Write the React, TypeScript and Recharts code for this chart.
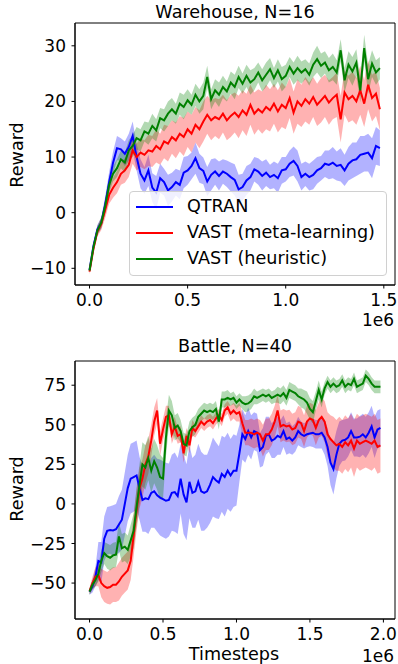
import React from "react";
import { ComposedChart, Line, Area, XAxis, YAxis, ReferenceArea } from "recharts";

// Warehouse, N=16 — one sample every 20k timesteps
const W_QTRAN = [
  -10.3, -6.0, -3.0, -1.8, 1.5, 5.5, 9.0, 11.6, 11.4, 10.6, 11.8, 13.8, 10.0, 7.0, 5.8, 7.6, 4.5, 3.6, 6.2, 5.5,
  4.0, 4.6, 5.5, 5.0, 7.2, 7.6, 8.4, 9.8, 8.0, 7.5, 5.6, 6.8, 7.4, 6.6, 7.4, 7.0, 6.4, 5.9, 4.2, 4.6,
  5.8, 6.4, 7.8, 7.4, 6.6, 7.2, 6.4, 6.8, 6.2, 7.6, 7.8, 8.8, 9.3, 8.4, 6.4, 7.0, 6.4, 6.8, 7.6, 8.0,
  8.8, 8.6, 9.0, 8.4, 8.6, 7.6, 8.8, 9.4, 9.6, 10.4, 10.6, 10.8, 9.8, 12.0, 11.6,
];
const W_QTRAN_SD = [
  0.4, 0.6, 0.8, 1.0, 1.4, 1.8, 2.0, 2.2, 2.0, 2.2, 2.4, 2.6, 2.4,
  2.6, 2.4, 2.8, 2.6, 3.0, 2.6, 2.4, 2.8, 2.6, 2.4, 2.6, 2.8, 2.6, 2.4, 2.8, 2.6, 2.4, 2.6, 2.8, 2.4, 2.6, 2.2, 2.4, 2.6, 2.8, 2.6, 2.4, 2.6,
  2.4, 2.2, 2.4, 2.6, 2.4, 2.2, 2.4, 2.6, 2.4, 2.2, 2.4, 2.6, 2.8, 2.4, 2.2, 2.4, 2.6, 2.4, 2.2, 2.4,
  2.6, 2.8, 2.6, 3.0, 2.8, 3.0, 3.2, 3.0, 3.4, 3.2, 3.4, 3.6, 3.4, 3.2,
];
const W_META = [
  -10.6, -6.5, -3.4, -2.0, 0.5, 3.2, 4.5, 5.5, 7.0, 7.6, 8.6, 11.2, 10.0, 10.8, 10.4, 11.2, 11.0, 12.0, 11.4, 12.8,
  12.4, 13.6, 13.0, 14.2, 13.6, 15.0, 14.2, 15.8, 15.0, 16.4, 17.6, 16.6, 17.2, 16.8, 17.8, 16.6, 17.4, 18.0, 17.2, 18.4,
  17.6, 19.4, 17.8, 18.6, 18.0, 19.0, 18.4, 19.6, 18.2, 19.4, 18.8, 20.6, 18.0, 20.0, 19.2, 20.4, 19.6, 20.8, 19.4, 20.2,
  21.0, 19.8, 20.6, 21.2, 16.8, 21.6, 20.4, 21.0, 20.0, 22.0, 19.6, 23.0, 20.6, 21.4, 18.6,
];
const W_META_SD = [
  0.5, 0.7, 0.9, 1.1, 1.4, 1.6, 1.8, 2.0, 2.0, 2.2, 2.2, 2.4, 2.4,
  2.6, 2.6, 2.8, 2.8, 3.0, 2.8, 3.0, 3.2, 3.0, 3.2, 3.2, 3.4, 3.2, 3.4, 3.2, 3.4, 3.6, 3.4, 3.6, 3.4, 3.6, 3.4, 3.6, 3.8, 3.6, 3.8, 3.6, 3.8,
  3.6, 3.8, 3.6, 3.8, 4.0, 3.8, 3.6, 3.8, 4.0, 3.8, 3.6, 3.8, 4.0, 3.8, 4.0, 3.8, 3.6, 3.8, 4.0, 3.8,
  4.0, 3.8, 4.0, 4.2, 4.0, 4.2, 4.4, 4.2, 4.4, 4.2, 4.4, 4.2, 4.0, 3.8,
];
const W_HEUR = [
  -10.4, -6.2, -3.2, -1.8, 1.2, 5.0, 7.0, 8.0, 9.6, 9.0, 11.2, 12.0, 13.4, 13.0, 14.6, 14.2, 15.6, 14.8, 17.0, 16.6,
  17.8, 18.6, 17.8, 19.6, 19.0, 20.2, 19.4, 21.2, 20.0, 21.0, 24.4, 20.4, 22.0, 21.2, 22.6, 21.8, 23.4, 22.6, 24.4, 23.2,
  24.6, 23.4, 24.0, 25.2, 23.8, 24.8, 25.8, 24.2, 25.6, 24.0, 24.6, 26.2, 25.0, 26.0, 25.2, 25.8, 24.8, 26.6, 27.6, 26.4,
  27.0, 25.6, 26.2, 25.2, 29.2, 23.8, 26.6, 25.4, 27.0, 22.0, 29.6, 24.0, 26.8, 25.2, 26.0,
];
const W_HEUR_SD = [
  0.4, 0.6, 0.8, 1.0, 1.2, 1.4, 1.4, 1.6, 1.6, 1.8, 1.8, 2.0, 2.0,
  2.0, 1.8, 2.0, 2.2, 2.0, 1.8, 2.0, 2.2, 2.0, 1.8, 2.0, 2.2, 2.0, 1.8, 2.0, 2.2, 2.4, 2.0, 1.8, 2.0, 2.2, 2.0, 1.8, 2.0, 2.2, 2.0, 1.8, 2.0, 2.2, 2.0,
  1.8, 2.0, 2.2, 2.0, 1.8, 2.0, 2.2, 2.0, 1.8, 2.0, 2.2, 2.0, 1.8, 2.0, 2.2, 2.4, 2.2, 2.0, 2.2, 2.4, 2.2, 2.0, 2.2, 2.4, 2.6, 2.4, 2.2, 2.4, 2.6, 2.4, 2.2, 2.0,
];

// Battle, N=40 — one sample every 20k timesteps
const B_QTRAN = [
  -55.4, -52, -46, -36, -37, -22, -17, -16.5, -16.8, -16, -13, -10, 0, 10, 16, 17, 18, 10, 2.5, 3.5,
  3, 7, 8, 5.5, 4, 3, 2, 2.5, 7, 7.5, 5, 16, 6, 1, 14, 7, 8, 14, 8, 7,
  8, 12, 17, 15, 13.5, 19, 17, 21, 18, 21, 21, 32, 44, 41, 46, 42, 46, 45, 34, 36,
  43, 44, 40, 41, 43, 42, 46, 41, 42, 40, 42, 46, 44, 43, 44, 44.5, 45, 44, 44, 45,
  42, 36, 26, 22, 31, 38, 40, 40.5, 42, 46, 42, 42, 42.5, 44, 42, 45, 49, 42, 47, 48,
];
const B_QTRAN_SD = [
  2, 4, 6, 12, 13, 14, 15, 15, 16, 16, 18, 19, 20, 21, 22, 22, 22,
  20, 20, 21, 22, 22, 23, 23, 24, 24, 24, 23, 24, 25, 24, 22, 25, 24, 23, 22, 23, 24, 25, 24, 23, 24, 25, 24, 23, 24, 25, 24, 23, 23, 22,
  18, 16, 15, 15, 14,
  12, 12, 11, 12, 12, 11, 11, 12, 12, 11, 10, 10, 10, 9, 9, 9, 8, 8, 8, 8, 9, 9, 9, 10, 11,
  12, 14, 16, 15, 14, 13, 13, 12, 12, 12, 12, 13, 13, 13, 13, 13, 13, 12, 12,
];
const B_META = [
  -55, -50, -46, -45, -50, -52, -53, -52.5, -51, -51, -49, -46, -44, -42, -36, -20, -4, 10, 16, 25,
  30, 40, 52, 59, 38, 47, 55, 56, 44, 49, 43, 44, 32, 43, 37, 48, 46, 49, 52, 50,
  52, 53, 51, 54, 56, 53, 59, 61, 57, 59, 57, 58, 51, 45, 45, 45, 44, 45, 44, 40,
  44, 44, 47, 52, 59, 49, 50, 49, 49.5, 47, 48, 52, 51, 46, 52, 54, 53, 48, 53, 55,
  52, 44, 41, 39, 37, 38, 36, 39, 37, 40, 35, 40, 38, 39, 40, 39, 38, 40, 36, 37,
];
const B_META_SD = [
  2, 4, 6, 7, 9, 10, 10, 11, 11, 11, 12, 12, 12, 12, 12,
  13, 13, 13, 12, 12, 11, 10, 9, 8, 8, 7, 7, 6, 6, 6, 5,
  5, 6, 5, 5, 5, 4, 4, 4, 4, 4, 4, 4, 4, 4, 4, 4, 4, 5, 5, 5, 6,
  7, 8, 8, 9, 9, 9, 9, 10, 10, 10, 10, 10, 10, 10, 10, 10, 10, 10, 10, 10, 10, 10, 10, 10, 10, 11, 11, 12, 13,
  14, 15, 16, 16, 17, 17, 17, 17, 17, 18, 17, 17, 17, 17, 17, 17, 17, 17, 17,
];
const B_HEUR = [
  -55.4, -51, -48, -44, -36, -31, -33, -34, -32.5, -32, -20.5, -28, -27, -29, -23, -17, -2, 12, 25, 23,
  29, 21, 27, 23, 17, 16, 42, 59, 56, 48, 49.5, 46, 38, 37, 46, 48.5, 50, 55, 57, 59,
  58, 59, 58, 60, 52, 66, 66, 67, 66, 67, 64, 66, 64, 63, 63.5, 65, 68, 67, 68, 69,
  68, 69, 67, 68, 69, 68, 70, 67, 72, 71, 70, 68, 67, 66, 64, 60, 58, 65, 72, 66,
  73, 77, 74, 76, 74, 75, 78, 74, 76, 75, 79, 74, 75, 76, 81, 79, 76, 74, 74, 74,
];
const B_HEUR_SD = [
  2, 3, 4, 5, 7, 7, 8, 8, 8, 8, 9, 9, 9, 9, 10, 11,
  12, 13, 14, 14, 14, 14, 14, 14, 14, 13, 12,
  10, 9, 8, 8, 7, 7, 7, 6, 6, 6, 5, 5, 5, 5, 5, 5, 5, 5,
  5, 5, 5, 4, 4, 4, 4, 4, 5, 5, 5, 5, 4, 4, 4, 4, 4, 4, 4, 5, 5, 5, 5, 5, 5, 5, 5, 6, 6, 7,
  7, 7, 6, 6,
  5, 4, 4, 4, 4, 4, 4, 4, 4, 4, 4, 4, 4, 4, 4, 4, 4, 4, 4, 4, 4,
];

const STEP = 20000;
const SERIES = [
  { key: "q", name: "QTRAN", color: "#0000ff" },
  { key: "m", name: "VAST (meta-learning)", color: "#ff0000" },
  { key: "h", name: "VAST (heuristic)", color: "#008000" },
];

const FONT = "DejaVu Sans";

function buildRows(q: number[], qs: number[], m: number[], ms: number[], h: number[], hs: number[]) {
  return q.map((_, i) => ({
    t: i * STEP,
    q: q[i],
    qBand: [q[i] - qs[i], q[i] + qs[i]],
    m: m[i],
    mBand: [m[i] - ms[i], m[i] + ms[i]],
    h: h[i],
    hBand: [h[i] - hs[i], h[i] + hs[i]],
  }));
}

const warehouseRows = buildRows(W_QTRAN, W_QTRAN_SD, W_META, W_META_SD, W_HEUR, W_HEUR_SD);
const battleRows = buildRows(B_QTRAN, B_QTRAN_SD, B_META, B_META_SD, B_HEUR, B_HEUR_SD);

const tickStyle = { fill: "#000", fontSize: 17, fontFamily: FONT };
const fmtY = (v: number) => (v < 0 ? `\u2212${-v}` : `${v}`);
const fmtX = (v: number) => (v / 1e6).toFixed(1);

interface PanelProps {
  rows: any[];
  height: number;
  top: number;
  xDomain: [number, number];
  yDomain: [number, number];
  xTicks: number[];
  yTicks: number[];
}

const Panel: React.FC<PanelProps> = ({ rows, height, top, xDomain, yDomain, xTicks, yTicks }) => (
  <ComposedChart width={398} height={height} data={rows} margin={{ top, right: 3, left: 0, bottom: 0 }}>
    <XAxis
      dataKey="t"
      type="number"
      domain={xDomain}
      ticks={xTicks}
      allowDataOverflow
      tickFormatter={fmtX}
      height={45}
      tick={tickStyle}
      tickSize={3.5}
      tickMargin={5}
      stroke="#000"
      tickLine={{ stroke: "#000" }}
      axisLine={{ stroke: "#000" }}
    />
    <YAxis
      type="number"
      domain={yDomain}
      ticks={yTicks}
      allowDataOverflow
      tickFormatter={fmtY}
      width={75}
      tick={tickStyle}
      tickSize={3.5}
      tickMargin={5.5}
      stroke="#000"
      tickLine={{ stroke: "#000" }}
      axisLine={{ stroke: "#000" }}
    />
    {SERIES.map((s) => (
      <Area
        key={s.key + "Band"}
        dataKey={s.key + "Band"}
        type="linear"
        stroke="none"
        fill={s.color}
        fillOpacity={0.3}
        isAnimationActive={false}
      />
    ))}
    {SERIES.map((s) => (
      <Line
        key={s.key}
        dataKey={s.key}
        type="linear"
        stroke={s.color}
        strokeWidth={2}
        dot={false}
        isAnimationActive={false}
      />
    ))}
    <ReferenceArea
      x1={xDomain[0]}
      x2={xDomain[1]}
      y1={yDomain[0]}
      y2={yDomain[1]}
      fill="none"
      stroke="#000"
      strokeWidth={1}
      ifOverflow="visible"
    />
  </ComposedChart>
);

const Text: React.FC<{ x: number; y: number; size?: number; rotate?: boolean; align?: string; children: React.ReactNode }> = ({
  x,
  y,
  size = 17.6,
  rotate,
  align = "center",
  children,
}) => (
  <div
    style={{
      position: "absolute",
      left: x,
      top: y,
      fontFamily: FONT,
      fontSize: size,
      color: "#000",
      whiteSpace: "nowrap",
      lineHeight: 1,
      transform: `translate(${align === "center" ? "-50%" : align === "right" ? "-100%" : "0"}, -50%)${rotate ? " rotate(-90deg)" : ""}`,
    }}
  >
    {children}
  </div>
);

const LegendBox: React.FC = () => (
  <div
    style={{
      position: "absolute",
      left: 129,
      top: 191,
      width: 256,
      height: 83,
      border: "1px solid #d0d0d0",
      borderRadius: 4,
      background: "rgba(255,255,255,0.8)",
      fontFamily: FONT,
      fontSize: 17.6,
    }}
  >
    {SERIES.map((s, i) => (
      <div key={s.key} style={{ position: "absolute", left: 6, top: 15 + i * 26 - 10, height: 20, display: "flex", alignItems: "center" }}>
        <div style={{ width: 37, height: 2, background: s.color }} />
        <span style={{ marginLeft: 14, lineHeight: 1 }}>{s.name}</span>
      </div>
    ))}
  </div>
);

export default function App() {
  return (
    <div style={{ position: "absolute", left: 0, top: 0, width: 398, height: 664, background: "#fff", overflow: "hidden" }}>
      <div style={{ position: "absolute", left: 0, top: 0 }}>
        <Panel
          rows={warehouseRows}
          height={330}
          top={23}
          xDomain={[-74000, 1557000]}
          yDomain={[-13, 34.1]}
          xTicks={[0, 500000, 1000000, 1500000]}
          yTicks={[-10, 0, 10, 20, 30]}
        />
      </div>
      <div style={{ position: "absolute", left: 0, top: 330 }}>
        <Panel
          rows={battleRows}
          height={334}
          top={31}
          xDomain={[-99000, 2079000]}
          yDomain={[-72.7, 90.3]}
          xTicks={[0, 500000, 1000000, 1500000, 2000000]}
          yTicks={[-50, -25, 0, 25, 50, 75]}
        />
      </div>
      <LegendBox />
      <Text x={235} y={13}>Warehouse, N=16</Text>
      <Text x={235} y={347}>Battle, N=40</Text>
      <Text x={18} y={155} rotate>Reward</Text>
      <Text x={18} y={489} rotate>Reward</Text>
      <Text x={234} y={655}>Timesteps</Text>
      <Text x={394} y={320} size={17} align="right">1e6</Text>
      <Text x={394} y={656} size={17} align="right">1e6</Text>
    </div>
  );
}
